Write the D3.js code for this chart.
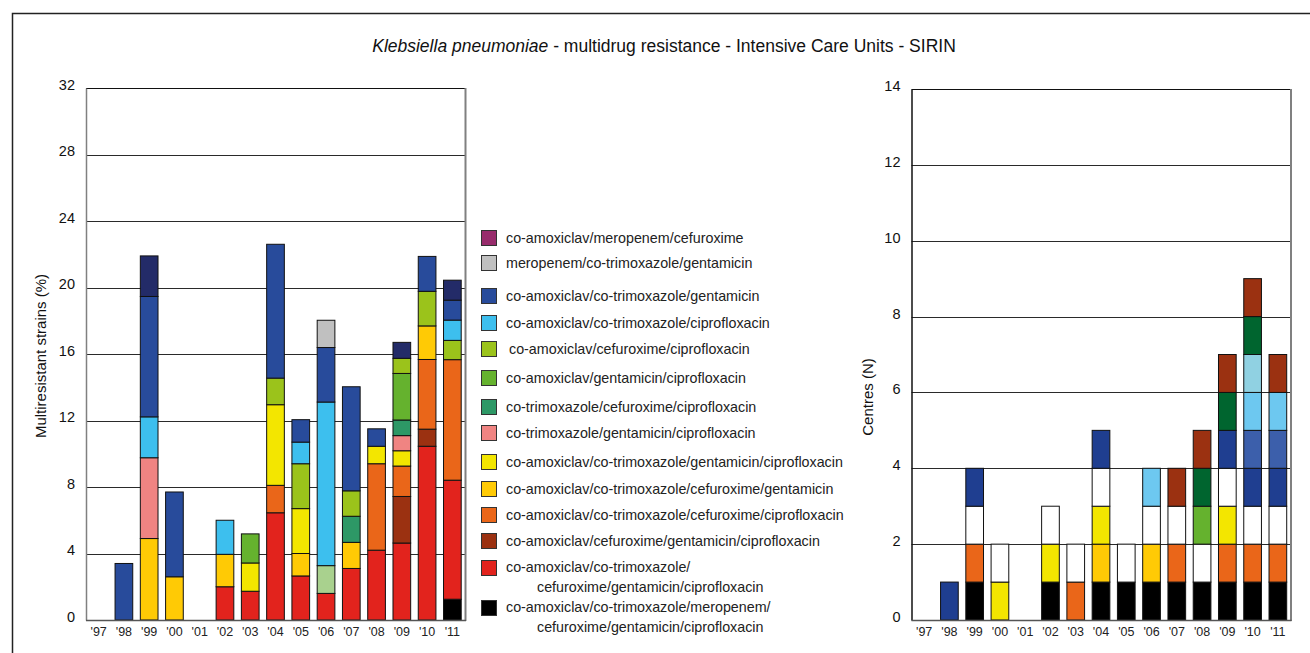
<!DOCTYPE html>
<html>
<head>
<meta charset="utf-8">
<script src="https://cdn.jsdelivr.net/npm/d3@7"></script>
<style>
  html, body { margin: 0; padding: 0; background: #fff; }
  svg { display: block; font-family: "Liberation Sans", Arial, sans-serif; }
</style>
</head>
<body>
<svg id="chart" width="1310" height="653"></svg>
<script>
// Years of surveillance
const years = ["'97","'98","'99","'00","'01","'02","'03","'04","'05","'06","'07","'08","'09","'10","'11"];

// Left panel: % of multiresistant strains per resistance pattern (stack order bottom -> top)
const pctBlack     = [0,0,0,0,0,0,0,0,0,0,0,0,0,0,1.25];
const pctRed       = [0,0,0,0,0,2.0,1.73,6.45,2.65,1.6,3.1,4.2,4.63,10.45,7.16];
const pctPaleGreen = [0,0,0,0,0,0,0,0,0,1.67,0,0,0,0,0];
const pctBrown     = [0,0,0,0,0,0,0,0,0,0,0,0,2.8,1.03,0];
const pctOrange    = [0,0,0,0,0,0,0,1.65,0,0,0,5.2,1.83,4.19,7.25];
const pctGold      = [0,0,4.9,2.6,0,1.95,0,0,1.35,0,1.57,0,0,2.02,0];
const pctYellow    = [0,0,0,0,0,0,1.7,4.85,2.7,0,0,1.05,0.92,0,0];
const pctPink      = [0,0,4.86,0,0,0,0,0,0,0,0,0,0.91,0,0];
const pctTeal      = [0,0,0,0,0,0,0,0,0,0,1.57,0,0.94,0,0];
const pctGreen     = [0,0,0,0,0,0,1.75,0,0,0,0,0,2.8,0,0];
const pctYGreen    = [0,0,0,0,0,0,0,1.6,2.7,0,1.53,0,0.91,2.08,1.16];
const pctLightBlue = [0,0,2.46,0,0,2.05,0,0,1.3,9.84,0,0,0,0,1.22];
const pctBlue      = [0,3.4,7.24,5.1,0,0,0,8.05,1.35,3.28,6.26,1.05,0,2.1,1.2];
const pctGray      = [0,0,0,0,0,0,0,0,0,1.64,0,0,0,0,0];
const pctPurple    = [0,0,0,0,0,0,0,0,0,0,0,0,0,0,0];
const pctNavy      = [0,0,2.44,0,0,0,0,0,0,0,0,0,0.96,0,1.2];

// Right panel: number of centres per class (stack order bottom -> top)
const nBlack     = [0,0,1,0,0,1,0,1,1,1,1,1,1,1,1];
const nOrange    = [0,0,1,0,0,0,1,0,0,0,1,0,1,1,1];
const nGold      = [0,0,0,0,0,0,0,1,0,1,0,0,0,0,0];
const nYellow    = [0,0,0,1,0,1,0,1,0,0,0,0,1,0,0];
const nWhite     = [0,0,1,1,0,1,1,1,1,1,1,1,1,1,1];
const nGreen     = [0,0,0,0,0,0,0,0,0,0,0,1,0,0,0];
const nBlue      = [0,1,1,0,0,0,0,1,0,0,0,0,1,1,1];
const nMidBlue   = [0,0,0,0,0,0,0,0,0,0,0,0,0,1,1];
const nLightBlue = [0,0,0,0,0,0,0,0,0,1,0,0,0,1,1];
const nPaleBlue  = [0,0,0,0,0,0,0,0,0,0,0,0,0,1,0];
const nDarkGreen = [0,0,0,0,0,0,0,0,0,0,0,1,1,1,0];
const nBrown     = [0,0,0,0,0,0,0,0,0,0,1,1,1,1,1];

// Legend labels (top -> bottom)
const legendLabels = [
  ["co-amoxiclav/meropenem/cefuroxime"],
  ["meropenem/co-trimoxazole/gentamicin"],
  ["co-amoxiclav/co-trimoxazole/gentamicin"],
  ["co-amoxiclav/co-trimoxazole/ciprofloxacin"],
  ["co-amoxiclav/cefuroxime/ciprofloxacin"],
  ["co-amoxiclav/gentamicin/ciprofloxacin"],
  ["co-trimoxazole/cefuroxime/ciprofloxacin"],
  ["co-trimoxazole/gentamicin/ciprofloxacin"],
  ["co-amoxiclav/co-trimoxazole/gentamicin/ciprofloxacin"],
  ["co-amoxiclav/co-trimoxazole/cefuroxime/gentamicin"],
  ["co-amoxiclav/co-trimoxazole/cefuroxime/ciprofloxacin"],
  ["co-amoxiclav/cefuroxime/gentamicin/ciprofloxacin"],
  ["co-amoxiclav/co-trimoxazole/", "cefuroxime/gentamicin/ciprofloxacin"],
  ["co-amoxiclav/co-trimoxazole/meropenem/", "cefuroxime/gentamicin/ciprofloxacin"]
];

const leftTicks = [0,4,8,12,16,20,24,28,32];
const rightTicks = [0,2,4,6,8,10,12,14];

// ---- colours ----
const C = {
  black: "#000000", red: "#e2231d", paleGreen: "#a9d18e", brown: "#9b3111",
  orange: "#ea6619", gold: "#ffca05", yellow: "#f3e600", pink: "#f08482",
  teal: "#2d9866", green: "#65b22e", yGreen: "#9bc31b", lightBlue: "#3dbfee",
  blue: "#284b9b", gray: "#c0c0c0", purple: "#982c6c", navy: "#232b68",
  white: "#ffffff", midBlue: "#3c5fab", lbRight: "#6dc8f0", paleBlue: "#90d1e2",
  darkGreen: "#00652f", blueR: "#1f3e90"
};

const leftSeries = [
  {v: pctBlack, c: C.black}, {v: pctRed, c: C.red}, {v: pctPaleGreen, c: C.paleGreen},
  {v: pctBrown, c: C.brown}, {v: pctOrange, c: C.orange}, {v: pctGold, c: C.gold},
  {v: pctYellow, c: C.yellow}, {v: pctPink, c: C.pink}, {v: pctTeal, c: C.teal},
  {v: pctGreen, c: C.green}, {v: pctYGreen, c: C.yGreen}, {v: pctLightBlue, c: C.lightBlue},
  {v: pctBlue, c: C.blue}, {v: pctGray, c: C.gray}, {v: pctPurple, c: C.purple},
  {v: pctNavy, c: C.navy}
];
const rightSeries = [
  {v: nBlack, c: C.black}, {v: nOrange, c: C.orange}, {v: nGold, c: C.gold},
  {v: nYellow, c: C.yellow}, {v: nWhite, c: C.white}, {v: nGreen, c: C.green},
  {v: nBlue, c: C.blueR}, {v: nMidBlue, c: C.midBlue}, {v: nLightBlue, c: C.lbRight},
  {v: nPaleBlue, c: C.paleBlue}, {v: nDarkGreen, c: C.darkGreen}, {v: nBrown, c: C.brown}
];
const legendColors = [C.purple, C.gray, C.blue, C.lightBlue, C.yGreen, C.green, C.teal,
  C.pink, C.yellow, C.gold, C.orange, C.brown, C.red, C.black];

const svg = d3.select("#chart");

// outer frame
svg.append("path").attr("d", "M12.5,653 V13.5 H1310")
  .attr("fill", "none").attr("stroke", "#222").attr("stroke-width", 1.5);

// title
const title = svg.append("text").attr("x", 664).attr("y", 52)
  .attr("text-anchor", "middle").attr("font-size", 17.5).attr("fill", "#111");
title.append("tspan").attr("font-style", "italic").text("Klebsiella pneumoniae");
title.append("tspan").text(" - multidrug resistance - Intensive Care Units - SIRIN");

function stackRows(series) {
  const rows = years.map((y, i) => {
    const r = {year: y};
    series.forEach((s, k) => r["s" + k] = s.v[i]);
    return r;
  });
  return d3.stack().keys(series.map((s, k) => "s" + k))(rows);
}

function panel(opts) {
  const {x0, x1, y0, y1, max, ticks, series, axisTitle, titleX, titleY} = opts;
  const x = d3.scaleBand().domain(years).range([x0, x1]).paddingInner(0.3).paddingOuter(0.15);
  const y = d3.scaleLinear().domain([0, max]).range([y1, y0]);
  const g = svg.append("g");

  // gridlines
  g.selectAll("line.grid").data(ticks.filter(t => t > 0 && t < max)).join("line")
    .attr("x1", x0).attr("x2", x1)
    .attr("y1", d => Math.round(y(d)) + 0.5).attr("y2", d => Math.round(y(d)) + 0.5)
    .attr("stroke", "#2a2a2a").attr("stroke-width", 1);

  // frame: top, right
  g.append("line").attr("x1", x0).attr("x2", x1 + 1)
    .attr("y1", Math.round(y0) + 0.5).attr("y2", Math.round(y0) + 0.5)
    .attr("stroke", "#111").attr("stroke-width", 1);
  g.append("line").attr("x1", x1 + 0.5).attr("x2", x1 + 0.5)
    .attr("y1", y0).attr("y2", y1 + 1)
    .attr("stroke", "#808080").attr("stroke-width", 2);

  // bars
  const stacked = stackRows(series);
  stacked.forEach((layer, k) => {
    g.append("g").selectAll("rect").data(layer.filter(d => d[1] - d[0] > 0)).join("rect")
      .attr("x", d => x(d.data.year))
      .attr("width", x.bandwidth())
      .attr("y", d => y(d[1]))
      .attr("height", d => y(d[0]) - y(d[1]))
      .attr("fill", series[k].c)
      .attr("stroke", "#111").attr("stroke-width", 1);
  });

  // axes
  const ya = d3.axisLeft(y).tickValues(ticks).tickSize(0).tickPadding(11);
  const yg = g.append("g").attr("transform", `translate(${x0},0)`).call(ya);
  yg.select(".domain").attr("stroke", opts.yAxisColor).attr("stroke-width", 1.5);
  yg.selectAll("text").attr("font-size", 14.5).attr("fill", "#111")
    .attr("font-family", "Liberation Sans, Arial, sans-serif").attr("dy", "0.1em");

  const xa = d3.axisBottom(x).tickSize(0).tickPadding(7);
  const xg = g.append("g").attr("transform", `translate(0,${y1})`).call(xa);
  xg.select(".domain").attr("stroke", "#555").attr("stroke-width", 1.5)
    .attr("d", `M${x0},0.5H${x1 + 1}`);
  xg.selectAll("text").attr("font-size", 12.5).attr("fill", "#222")
    .attr("font-family", "Liberation Sans Narrow, Arial Narrow, Liberation Sans, sans-serif");

  svg.append("text").attr("transform", `translate(${titleX},${titleY}) rotate(-90)`)
    .attr("text-anchor", "middle").attr("font-size", 15).attr("fill", "#111")
    .text(axisTitle);
}

panel({x0: 86, x1: 465, y0: 88, y1: 620, max: 32, ticks: leftTicks, series: leftSeries,
  axisTitle: "Multiresistant strains (%)", titleX: 46, titleY: 356, yAxisColor: "#808080"});
panel({x0: 911.5, x1: 1290.5, y0: 89, y1: 620, max: 14, ticks: rightTicks, series: rightSeries,
  axisTitle: "Centres (N)", titleX: 873, titleY: 397, yAxisColor: "#111"});

// legend
const legendRowY = [238, 263, 296, 323, 349, 378, 407, 433, 462, 489, 515, 541, 568, 608];
const legendIndent = [0,0,0,0,3,0,0,0,0,0,0,0,0,0];
const lg = svg.append("g");
legendLabels.forEach((lines, i) => {
  const cy = legendRowY[i];
  lg.append("rect").attr("x", 481.5).attr("y", cy - 7.5).attr("width", 15).attr("height", 15)
    .attr("fill", legendColors[i]).attr("stroke", "#333").attr("stroke-width", 1);
  lines.forEach((t, j) => {
    lg.append("text")
      .attr("x", j === 0 ? 506 + legendIndent[i] : 537)
      .attr("y", cy + (lines.length > 1 ? 4 : 5) + j * 20)
      .attr("font-size", 14.3).attr("fill", "#222").text(t);
  });
});
</script>
</body>
</html>
